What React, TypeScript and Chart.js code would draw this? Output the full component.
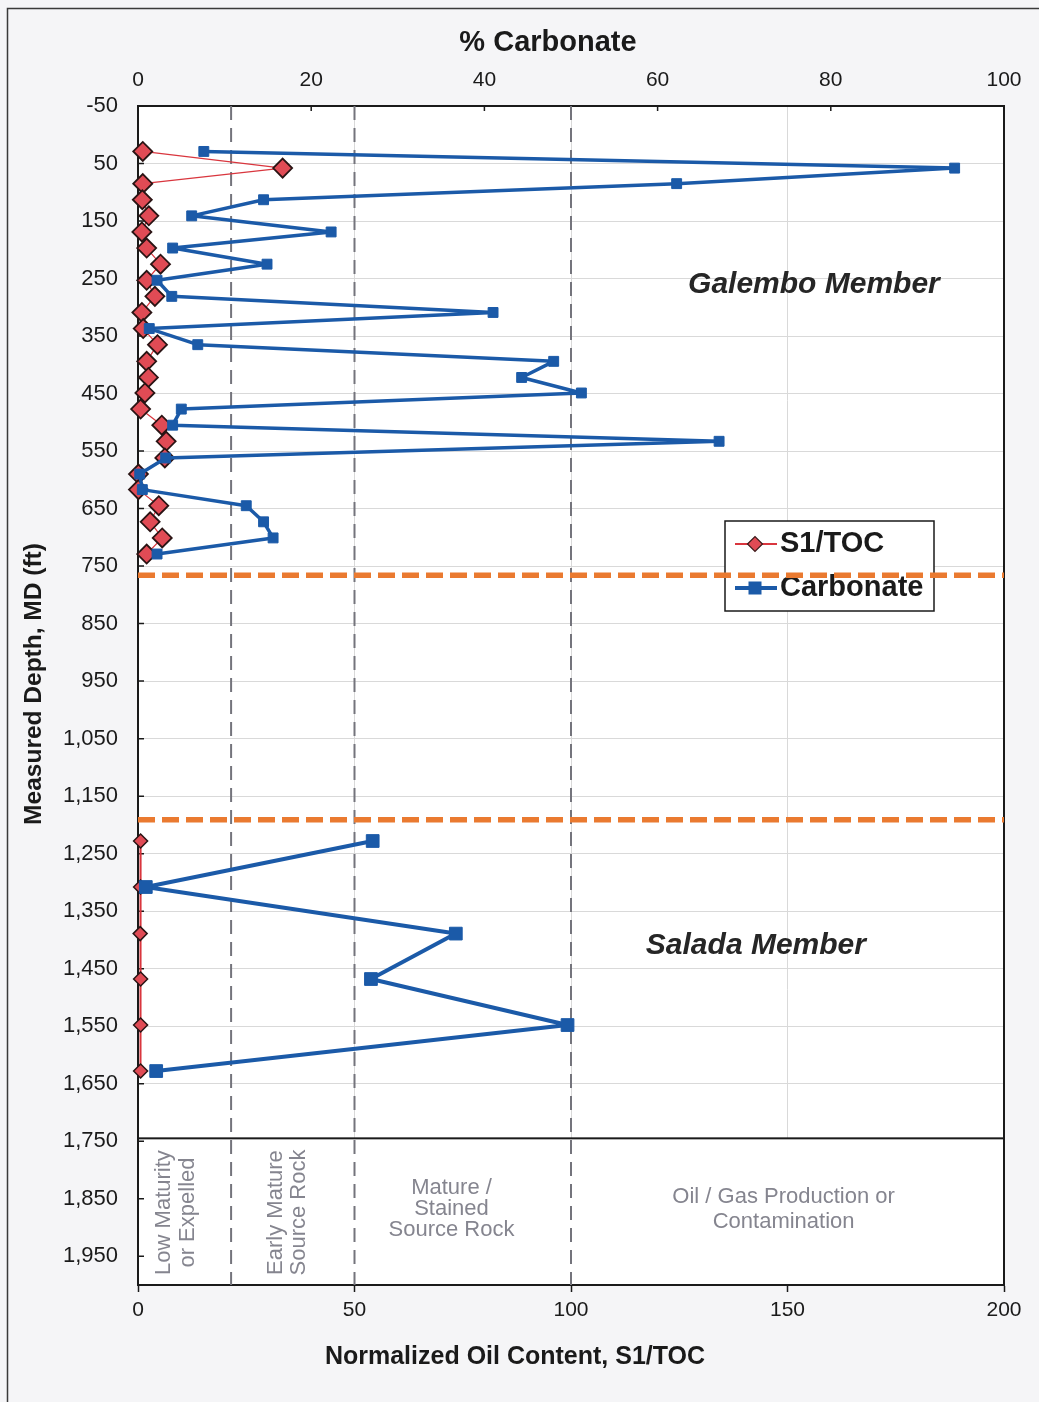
import { useEffect, useRef } from 'react';
import { Chart, registerables } from 'chart.js';

Chart.register(...registerables);

// ---------------- data ----------------
const galemboDepth = [29, 58, 85, 113, 141, 169, 197, 225, 253, 281, 309, 337, 365, 394, 422, 449, 477, 505, 533, 562, 590, 617, 645, 673, 701, 729];
const galemboS1 = [1.1, 33.4, 1.1, 1.0, 2.5, 0.9, 2.0, 5.2, 2.0, 3.9, 0.9, 1.2, 4.5, 2.0, 2.4, 1.6, 0.6, 5.5, 6.5, 6.2, 0.1, 0.1, 4.8, 2.8, 5.6, 2.0];
const galemboCarbonate = [7.6, 94.3, 62.2, 14.5, 6.2, 22.3, 4.0, 14.9, 2.2, 3.9, 41.0, 1.3, 6.9, 48.0, 44.3, 51.2, 5.0, 4.0, 67.1, 3.2, 0.2, 0.5, 12.5, 14.5, 15.6, 2.2];

const saladaDepth = [1228, 1308, 1389, 1468, 1548, 1628];
const saladaS1 = [0.6, 0.6, 0.5, 0.6, 0.6, 0.6];
const saladaCarbonate = [27.1, 0.9, 36.7, 26.9, 49.6, 2.1];

const memberBoundaries = [766, 1191];
const s1Thresholds = [21.5, 50, 100];

const depthTicks = [-50, 50, 150, 250, 350, 450, 550, 650, 750, 850, 950, 1050, 1150, 1250, 1350, 1450, 1550, 1650, 1750, 1850, 1950];
const s1Ticks = [0, 50, 100, 150, 200];
const carbonateTicks = [0, 20, 40, 60, 80, 100];

const depthMin = -50;
const depthMax = 2000;
const zoneBoxTop = 1745;

const zoneLabels = [
  { lines: ['Low Maturity', 'or Expelled'], x: 8.8, y: 1874, rotated: true, spacing: 24 },
  { lines: ['Early Mature', 'Source Rock'], x: 34.5, y: 1874, rotated: true, spacing: 23 },
  { lines: ['Mature /', 'Stained', 'Source Rock'], x: 72.4, y: 1867, rotated: false, spacing: 21 },
  { lines: ['Oil / Gas Production or', 'Contamination'], x: 149.1, y: 1868, rotated: false, spacing: 25 },
];

const memberLabels = [
  { text: 'Galembo Member', x: 156.1, y: 260.7 },
  { text: 'Salada Member', x: 142.7, y: 1409.5 },
];

// ---------------- styles ----------------
const FONT = "'Liberation Sans', Arial, Helvetica, sans-serif";
const BLUE = '#1b5aa8';
const RED_FILL = '#e04b55';
const RED_LINE = '#d9363e';
const ORANGE = '#ea7a30';
const DASH_GREY = '#74747c';
const GRID = '#d9d9d9';
const INK = '#1a1a1a';

function pts(xs: number[], ys: number[]) {
  return xs.map((x, i) => ({ x, y: ys[i] }));
}

const decorPlugin = {
  id: 'decor',
  beforeDraw(chart: any) {
    const { ctx, width, height, chartArea: a } = chart;
    ctx.save();
    ctx.fillStyle = '#f5f5f7';
    ctx.fillRect(0, 0, width, height);
    ctx.strokeStyle = '#3a3a3a';
    ctx.lineWidth = 1.5;
    ctx.beginPath();
    ctx.moveTo(7.5, height);
    ctx.lineTo(7.5, 8.5);
    ctx.lineTo(width, 8.5);
    ctx.stroke();
    ctx.fillStyle = '#ffffff';
    ctx.fillRect(a.left, a.top, a.right - a.left, a.bottom - a.top);
    ctx.restore();
  },
  beforeDatasetsDraw(chart: any) {
    const { ctx, chartArea: a } = chart;
    const ys = chart.scales.y;
    const xs = chart.scales.xS1;
    const xc = chart.scales.xCarb;
    ctx.save();

    // zone box at bottom
    const bt = ys.getPixelForValue(zoneBoxTop);
    ctx.fillStyle = '#ffffff';
    ctx.fillRect(a.left, bt, a.right - a.left, a.bottom - bt);
    ctx.strokeStyle = INK;
    ctx.lineWidth = 2;
    ctx.strokeRect(a.left, bt, a.right - a.left, a.bottom - bt);

    // right border
    ctx.beginPath();
    ctx.moveTo(a.right, a.top);
    ctx.lineTo(a.right, a.bottom);
    ctx.stroke();

    // inside tick marks
    ctx.lineWidth = 1.5;
    ctx.beginPath();
    carbonateTicks.forEach((v) => {
      const x = xc.getPixelForValue(v);
      ctx.moveTo(x, a.top);
      ctx.lineTo(x, a.top + 5);
    });
    depthTicks.forEach((v) => {
      const y = ys.getPixelForValue(v);
      ctx.moveTo(a.left, y);
      ctx.lineTo(a.left + 6, y);
    });
    ctx.stroke();

    // zone texts
    ctx.fillStyle = '#85858f';
    ctx.font = `22px ${FONT}`;
    ctx.textAlign = 'center';
    ctx.textBaseline = 'middle';
    zoneLabels.forEach((z) => {
      const cx = xs.getPixelForValue(z.x);
      const cy = ys.getPixelForValue(z.y);
      const n = z.lines.length;
      ctx.save();
      ctx.translate(cx, cy);
      if (z.rotated) ctx.rotate(-Math.PI / 2);
      z.lines.forEach((line, i) => {
        ctx.fillText(line, 0, (i - (n - 1) / 2) * z.spacing);
      });
      ctx.restore();
    });

    // member labels
    ctx.fillStyle = '#262626';
    ctx.font = `italic bold 30px ${FONT}`;
    memberLabels.forEach((m) => {
      ctx.fillText(m.text, xs.getPixelForValue(m.x), ys.getPixelForValue(m.y));
    });

    // legend
    const lx = a.right - 279;
    const ly = a.top + 415;
    const lw = 209;
    const lh = 90;
    ctx.fillStyle = '#ffffff';
    ctx.fillRect(lx, ly, lw, lh);
    ctx.strokeStyle = INK;
    ctx.lineWidth = 1.5;
    ctx.strokeRect(lx, ly, lw, lh);

    const r1 = ly + 23;
    const r2 = ly + 67;
    const sx0 = lx + 10;
    const sx1 = lx + 52;
    const sc = lx + 30;
    // S1/TOC row
    ctx.strokeStyle = RED_LINE;
    ctx.lineWidth = 2;
    ctx.beginPath();
    ctx.moveTo(sx0, r1);
    ctx.lineTo(sx1, r1);
    ctx.stroke();
    ctx.beginPath();
    ctx.moveTo(sc - 7.5, r1);
    ctx.lineTo(sc, r1 - 7.5);
    ctx.lineTo(sc + 7.5, r1);
    ctx.lineTo(sc, r1 + 7.5);
    ctx.closePath();
    ctx.fillStyle = RED_FILL;
    ctx.fill();
    ctx.strokeStyle = '#3a1a1a';
    ctx.lineWidth = 1.2;
    ctx.stroke();
    // Carbonate row
    ctx.strokeStyle = BLUE;
    ctx.lineWidth = 4;
    ctx.beginPath();
    ctx.moveTo(sx0, r2);
    ctx.lineTo(sx1, r2);
    ctx.stroke();
    ctx.fillStyle = BLUE;
    ctx.fillRect(sc - 6.5, r2 - 6.5, 13, 13);

    ctx.fillStyle = INK;
    ctx.font = `bold 29px ${FONT}`;
    ctx.textAlign = 'left';
    ctx.fillText('S1/TOC', lx + 55, r1);
    ctx.fillText('Carbonate', lx + 55, r2);

    ctx.restore();
  },
  afterDraw(chart: any) {
    const { ctx } = chart;
    ctx.save();
    ctx.fillStyle = INK;
    ctx.textAlign = 'center';
    ctx.textBaseline = 'middle';
    ctx.font = `bold 29px ${FONT}`;
    ctx.fillText('% Carbonate', 548, 43);
    ctx.font = `bold 25px ${FONT}`;
    ctx.fillText('Normalized Oil Content, S1/TOC', 515, 1357);
    ctx.translate(34, 684);
    ctx.rotate(-Math.PI / 2);
    ctx.font = `bold 24.5px ${FONT}`;
    ctx.fillText('Measured Depth, MD (ft)', 0, 0);
    ctx.restore();
  },
};

export default function App() {
  const ref = useRef<HTMLCanvasElement>(null);

  useEffect(() => {
    const canvas = ref.current;
    if (!canvas) return;

    const markerCommon = { clip: false as any, tension: 0, yAxisID: 'y', borderJoinStyle: 'round' as any };

    const datasets: any[] = [
      {
        ...markerCommon,
        label: 'Carbonate',
        data: pts(galemboCarbonate, galemboDepth),
        xAxisID: 'xCarb',
        borderColor: BLUE,
        backgroundColor: BLUE,
        borderWidth: 3.5,
        pointStyle: 'rect',
        pointRadius: 7,
        pointBorderWidth: 1,
        pointBackgroundColor: BLUE,
        pointBorderColor: BLUE,
      },
      {
        ...markerCommon,
        label: 'Carbonate (Salada)',
        data: pts(saladaCarbonate, saladaDepth),
        xAxisID: 'xCarb',
        borderColor: BLUE,
        backgroundColor: BLUE,
        borderWidth: 4,
        pointStyle: 'rect',
        pointRadius: 9,
        pointBorderWidth: 1,
        pointBackgroundColor: BLUE,
        pointBorderColor: BLUE,
      },
      {
        ...markerCommon,
        label: 'S1/TOC',
        data: pts(galemboS1, galemboDepth),
        xAxisID: 'xS1',
        borderColor: RED_LINE,
        borderWidth: 1.2,
        pointStyle: 'rectRot',
        pointRadius: 9.5,
        pointBackgroundColor: RED_FILL,
        pointBorderColor: '#2a1414',
        pointBorderWidth: 1.8,
      },
      {
        ...markerCommon,
        label: 'S1/TOC (Salada)',
        data: pts(saladaS1, saladaDepth),
        xAxisID: 'xS1',
        borderColor: RED_LINE,
        borderWidth: 2,
        pointStyle: 'rectRot',
        pointRadius: 7,
        pointBackgroundColor: RED_FILL,
        pointBorderColor: '#2a1414',
        pointBorderWidth: 1.5,
      },
      ...memberBoundaries.map((d) => ({
        label: 'boundary',
        data: [{ x: s1Ticks[0], y: d }, { x: s1Ticks[s1Ticks.length - 1], y: d }],
        xAxisID: 'xS1',
        yAxisID: 'y',
        borderColor: ORANGE,
        borderWidth: 5.5,
        borderDash: [17, 7],
        pointRadius: 0,
        clip: false,
      })),
      ...s1Thresholds.map((t) => ({
        label: 'threshold',
        data: [{ x: t, y: depthMin }, { x: t, y: depthMax }],
        xAxisID: 'xS1',
        yAxisID: 'y',
        borderColor: DASH_GREY,
        borderWidth: 2,
        borderDash: [14, 8],
        pointRadius: 0,
      })),
    ];

    const chart = new Chart(canvas, {
      type: 'line',
      data: { datasets },
      plugins: [decorPlugin],
      options: {
        responsive: false,
        animation: false,
        devicePixelRatio: 1,
        events: [],
        layout: { padding: { left: 0, top: 0, right: 35, bottom: 0 } },
        plugins: { legend: { display: false }, tooltip: { enabled: false }, title: { display: false } },
        scales: {
          xS1: {
            type: 'linear',
            position: 'bottom',
            min: s1Ticks[0],
            max: s1Ticks[s1Ticks.length - 1],
            afterBuildTicks: (s: any) => {
              s.ticks = s1Ticks.map((v) => ({ value: v }));
            },
            afterFit: (s: any) => {
              s.height = 117;
            },
            grid: { color: GRID, lineWidth: 1, drawTicks: true, tickLength: 7, tickColor: INK, tickWidth: 1.5 },
            border: { display: true, color: INK, width: 2 },
            ticks: { padding: 6, color: INK, autoSkip: false, maxRotation: 0, font: { family: FONT, size: 21 } },
          },
          xCarb: {
            type: 'linear',
            position: 'top',
            min: carbonateTicks[0],
            max: carbonateTicks[carbonateTicks.length - 1],
            afterBuildTicks: (s: any) => {
              s.ticks = carbonateTicks.map((v) => ({ value: v }));
            },
            afterFit: (s: any) => {
              s.height = 106;
            },
            grid: { display: false, drawTicks: false },
            border: { display: true, color: INK, width: 2 },
            ticks: { padding: 13, color: INK, autoSkip: false, maxRotation: 0, font: { family: FONT, size: 21 } },
          },
          y: {
            type: 'linear',
            position: 'left',
            reverse: true,
            min: depthMin,
            max: depthMax,
            afterBuildTicks: (s: any) => {
              s.ticks = depthTicks.map((v) => ({ value: v }));
            },
            afterFit: (s: any) => {
              s.width = 138;
            },
            grid: { color: GRID, lineWidth: 1, drawTicks: false },
            border: { display: true, color: INK, width: 2 },
            ticks: {
              padding: 20,
              color: INK,
              autoSkip: false,
              font: { family: FONT, size: 22 },
              callback: (v: any) => Number(v).toLocaleString('en-US'),
            },
          },
        },
      } as any,
    });

    return () => chart.destroy();
  }, []);

  return (
    <div style={{ position: 'absolute', left: 0, top: 0, width: 1039, height: 1402 }}>
      <canvas ref={ref} width={1039} height={1402} style={{ display: 'block', width: 1039, height: 1402 }} />
    </div>
  );
}
